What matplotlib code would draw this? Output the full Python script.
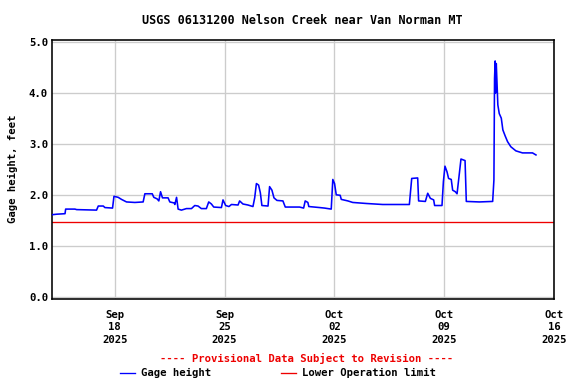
import datetime as dt
import matplotlib
matplotlib.use("Agg")
import matplotlib.pyplot as plt
from matplotlib.lines import Line2D

# ---- data (days since 2025-09-14 00:00, gage height in feet) ----
day_offsets = [
    0.00, 0.30, 0.83, 0.87, 1.46, 1.57, 2.84, 2.95, 3.27, 3.37, 3.86, 3.95,
    4.22, 4.43, 4.75, 5.28, 5.81, 5.92, 6.39, 6.49, 6.70, 6.81, 6.92, 7.04,
    7.40, 7.51, 7.79, 7.83, 7.94, 8.04, 8.25, 8.57, 8.89, 9.10, 9.31, 9.52,
    9.84, 9.99, 10.16, 10.31, 10.80, 10.90, 11.07, 11.28, 11.44, 11.86, 11.96,
    12.17, 12.49, 12.81, 12.92, 13.03, 13.17, 13.28, 13.38, 13.77, 13.87,
    14.02, 14.15, 14.34, 14.72, 14.87, 15.78, 16.04, 16.14, 16.31, 16.37,
    17.06, 17.37, 17.80, 17.90, 18.01, 18.12, 18.37, 18.44, 18.86, 19.17,
    20.03, 21.08, 22.78, 22.93, 23.31, 23.37, 23.80, 23.95, 24.12, 24.33,
    24.39, 24.86, 24.95, 25.05, 25.18, 25.28, 25.45, 25.54, 25.71, 25.82,
    25.92, 26.07, 26.33, 26.41, 27.24, 28.09, 28.17, 28.21, 28.25, 28.27,
    28.32, 28.36, 28.42, 28.51, 28.64, 28.74, 28.89, 29.04, 29.25, 29.57,
    29.99, 30.63, 30.85,
]
gage_height = [
    1.62, 1.63, 1.64, 1.73, 1.73, 1.72, 1.71, 1.79, 1.79, 1.76, 1.75, 1.98,
    1.96, 1.92, 1.87, 1.86, 1.87, 2.03, 2.03, 1.96, 1.93, 1.89, 2.07, 1.95,
    1.95, 1.87, 1.85, 1.82, 1.96, 1.73, 1.71, 1.74, 1.74, 1.80, 1.79, 1.74,
    1.74, 1.87, 1.83, 1.77, 1.76, 1.91, 1.80, 1.78, 1.82, 1.81, 1.89,
    1.83, 1.81, 1.78, 1.95, 2.23, 2.20, 2.05, 1.80, 1.79, 2.17,
    2.10, 1.95, 1.90, 1.89, 1.77, 1.77, 1.75, 1.89, 1.86, 1.78,
    1.76, 1.75, 1.73, 2.31, 2.23, 2.01, 2.00, 1.92, 1.89, 1.86,
    1.84, 1.82, 1.82, 2.33, 2.34, 1.89, 1.88, 2.04, 1.94, 1.91,
    1.80, 1.80, 2.27, 2.57, 2.46, 2.33, 2.31, 2.10, 2.07, 2.03,
    2.30, 2.71, 2.68, 1.88, 1.87, 1.88, 2.30, 4.29, 4.63, 4.00,
    4.58, 4.26, 3.77, 3.60, 3.51, 3.28, 3.16, 3.05, 2.95, 2.87,
    2.83, 2.83, 2.79,
]
lower_operation_limit = 1.47

start_date = dt.datetime(2025, 9, 14)
end_date = dt.datetime(2025, 10, 16)
tick_dates = [dt.datetime(2025, 9, 18), dt.datetime(2025, 9, 25),
              dt.datetime(2025, 10, 2), dt.datetime(2025, 10, 9),
              dt.datetime(2025, 10, 16)]
tick_labels = ["Sep\n18\n2025", "Sep\n25\n2025", "Oct\n02\n2025",
               "Oct\n09\n2025", "Oct\n16\n2025"]
y_ticks = [0, 1, 2, 3, 4, 5]
y_tick_labels = ["0.0", "1.0", "2.0", "3.0", "4.0", "5.0"]

title = "USGS 06131200 Nelson Creek near Van Norman MT"
ylabel = "Gage height, feet"
provisional = "---- Provisional Data Subject to Revision ----"
series_label = "Gage height"
limit_label = "Lower Operation limit"

times = [start_date + dt.timedelta(days=d) for d in day_offsets]

FONT = "DejaVu Sans Mono"
plt.rcParams["font.family"] = FONT
plt.rcParams["font.weight"] = "bold"

fig = plt.figure(figsize=(6, 4), dpi=96)
ax = fig.add_axes([52 / 576, 1 - 299 / 384, 502 / 576, 259.5 / 384])

ax.plot(times, gage_height, color="#0000ff", linewidth=1.2, zorder=3)
ax.axhline(lower_operation_limit, color="#ee0000", linewidth=1.0, zorder=2)

ax.set_xlim(start_date, end_date)
ax.set_ylim(-0.03, 5.05)
ax.set_xticks(tick_dates)
ax.set_xticklabels(tick_labels, fontsize=8, fontweight="bold", linespacing=1.35)
ax.set_yticks(y_ticks)
ax.set_yticklabels(y_tick_labels, fontsize=8, fontweight="bold")
ax.tick_params(axis="both", length=0, pad=3)
ax.tick_params(axis="x", pad=8)
ax.grid(True, color="#cccccc", linewidth=1.0, zorder=0)
ax.set_axisbelow(True)
for s in ax.spines.values():
    s.set_color("black")
    s.set_linewidth(1.2)

ax.set_ylabel(ylabel, fontsize=8, fontweight="bold", labelpad=8)
fig.text(302 / 576, 1 - 20 / 384, title, ha="center", va="center",
         fontsize=8.8, fontweight="bold")

fig.text(307 / 576, 1 - 358 / 384, provisional, ha="center", va="center",
         fontsize=8, fontweight="bold", color="#ee0000")
fig.add_artist(Line2D([120 / 576, 135 / 576], [1 - 373 / 384] * 2,
                      color="#0000ff", linewidth=1.0, transform=fig.transFigure))
fig.text(141 / 576, 1 - 373 / 384, series_label, ha="left", va="center",
         fontsize=8, fontweight="bold")
fig.add_artist(Line2D([281 / 576, 296 / 576], [1 - 373 / 384] * 2,
                      color="#ee0000", linewidth=1.0, transform=fig.transFigure))
fig.text(302 / 576, 1 - 373 / 384, limit_label, ha="left", va="center",
         fontsize=8, fontweight="bold")

fig.savefig("out.png", dpi=96)
